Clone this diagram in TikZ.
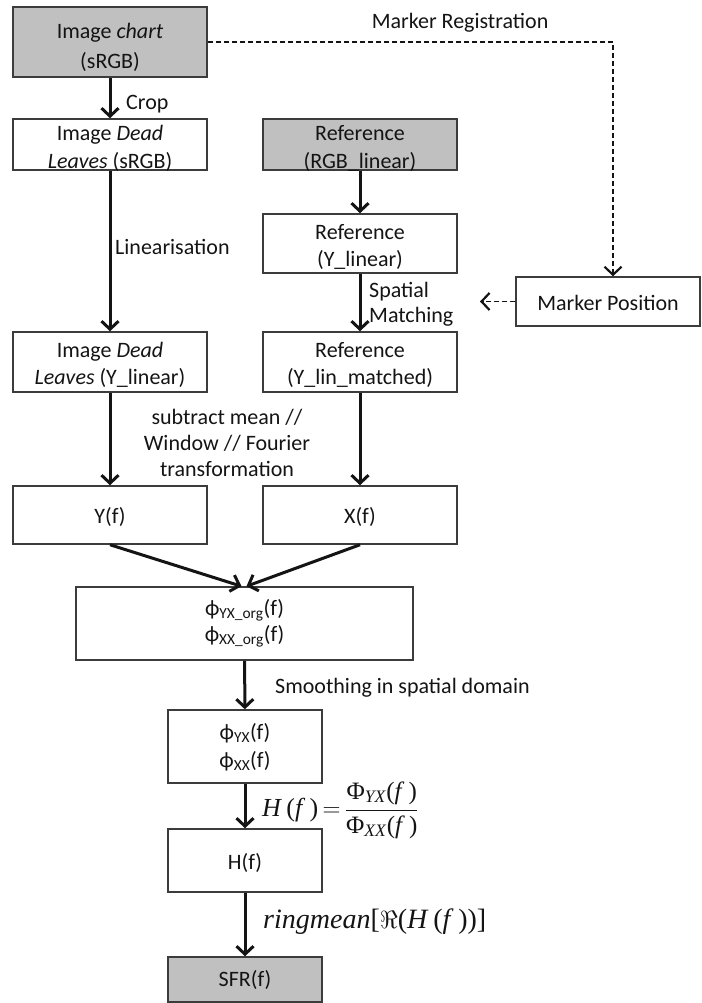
\documentclass[tikz,border=0pt]{standalone}
\usepackage{fontspec}
\setmainfont{Carlito}
\newfontfamily\tms{Liberation Serif}
\usetikzlibrary{arrows.meta}
\definecolor{boxgray}{RGB}{192,192,192}
\definecolor{edgegray}{RGB}{60,60,60}
\definecolor{ink}{RGB}{20,20,20}
% box text: centred lines, pushed down by half of the optional extra height
\newcommand\bxt[2][8pt]{\raisebox{0pt}[\dimexpr\height+#1\relax][\depth]{\begin{tabular}{@{}c@{}}#2\end{tabular}}}
\begin{document}
\begin{tikzpicture}[x=1pt,y=-1pt,
  every node/.style={text=ink},
  box/.style={draw=edgegray, line width=1.5pt, inner xsep=0pt, inner ysep=-12pt,
    font=\fontsize{22}{28}\selectfont},
  greybox/.style={box, fill=boxgray},
  lbl/.style={inner sep=0pt, font=\fontsize{22}{26}\selectfont},
  flow/.style={draw=ink, line width=3pt, -{Straight Barb[length=8pt,width=17pt,line width=3pt]}},
  dashline/.style={draw=ink, line width=1.3pt, dash pattern=on 5pt off 3pt},
  dashhead/.style={-{Straight Barb[length=8pt,width=17pt,line width=2.2pt]}}
]
\useasboundingbox (0,0) rectangle (701,1003);

% boxes
\node[greybox, minimum width=194pt, minimum height=70pt, font=\fontsize{22}{30}\selectfont] (chart) at (110,42)
  {\bxt[12pt]{Image \textit{chart}\\(sRGB)}};
\node[box, minimum width=194pt, minimum height=51pt] (dls) at (110,144.5)
  {\bxt{Image \textit{Dead}\\\textit{Leaves} (sRGB)}};
\node[greybox, minimum width=194pt, minimum height=51pt] (refrgb) at (360,144.5)
  {\bxt{Reference\\(RGB\_linear)}};
\node[box, minimum width=194pt, minimum height=59pt, font=\fontsize{22}{27}\selectfont] (refy) at (360,243.5)
  {\bxt{Reference\\(Y\_linear)}};
\node[box, minimum width=184pt, minimum height=49pt] (marker) at (608,301.5)
  {\bxt[7pt]{Marker Position}};
\node[box, minimum width=194pt, minimum height=60pt, font=\fontsize{22}{27}\selectfont] (dly) at (110,362)
  {\bxt{Image \textit{Dead}\\\textit{Leaves} (Y\_linear)}};
\node[box, minimum width=194pt, minimum height=60pt, font=\fontsize{22}{27}\selectfont] (refm) at (360,362)
  {\bxt{Reference\\(Y\_lin\_matched)}};
\node[box, minimum width=194pt, minimum height=58pt] (Yf) at (110,515) {\bxt[5pt]{Y(f)}};
\node[box, minimum width=194pt, minimum height=58pt] (Xf) at (360,515) {\bxt[5pt]{X(f)}};
\node[box, minimum width=337pt, minimum height=73pt, font=\fontsize{22}{26}\selectfont] (org) at (244.5,623.5)
  {\bxt[0pt]{ϕ\textsubscript{YX\_org}(f)\\ϕ\textsubscript{XX\_org}(f)}};
\node[box, minimum width=154pt, minimum height=73pt] (phi) at (245,746.5)
  {\bxt[2pt]{ϕ\textsubscript{YX}(f)\\ϕ\textsubscript{XX}(f)}};
\node[box, minimum width=154pt, minimum height=63pt] (Hf) at (245,860.5) {\bxt[6pt]{H(f)}};
\node[greybox, minimum width=154pt, minimum height=45pt] (sfr) at (245,979.5) {\bxt[2pt]{SFR(f)}};

% labels
\node[lbl] (mreg) at (460,23) {Marker Registration};
\node[lbl, anchor=west] (crop) at (126,104) {Crop};
\node[lbl, anchor=west] (lin) at (115,247) {Linearisation};
\node[lbl, anchor=west, align=left, font=\fontsize{22}{25}\selectfont] (spat) at (369,304.5) {Spatial\\Matching};
\node[lbl, align=center] (fourier) at (227,443) {subtract mean //\\Window // Fourier\\transformation};
\node[lbl, anchor=west] (smooth) at (275,688) {Smoothing in spatial domain};
\node[inner sep=0pt, anchor=west, font=\fontsize{26}{30}\selectfont\tms] (hform) at (262,810)
  {\textit{H}\,(\textit{f}\,)\thinspace$=$\,$\displaystyle\frac{\hbox{\fontsize{25}{30}\selectfont Φ\textsubscript{\textit{YX}}(\textit{f}\,)}}{\hbox{\fontsize{25}{30}\selectfont Φ\textsubscript{\textit{XX}}(\textit{f}\,)}}$};
\node[inner sep=0pt, anchor=west, font=\fontsize{28}{30}\selectfont\tms] (ring) at (263,922)
  {\textit{ringmean}[$\Re$(\textit{H}\,(\textit{f}\,))]};

% coordinates
\coordinate (mtip) at (480,301.5);

% connectors
\draw[flow] (chart) -- (dls);
\draw[flow] (refrgb) -- (refy);
\draw[flow] (dls) -- (dly);
\draw[flow] (refy) -- (refm);
\draw[flow] (dly) -- (Yf);
\draw[flow] (refm) -- (Xf);
\draw[flow] (Yf.south) -- ([xshift=-3pt]org.north);
\draw[flow] (Xf.south) -- ([xshift=2pt]org.north);
\draw[flow] (org) -- (phi);
\draw[flow] (phi) -- (Hf);
\draw[flow] (Hf) -- (sfr);
\draw[dashline, dashhead] (chart.east) -| ([xshift=5pt]marker.north);
\draw[dashline, dashhead] (marker.west) -- (mtip);
\end{tikzpicture}
\end{document}
